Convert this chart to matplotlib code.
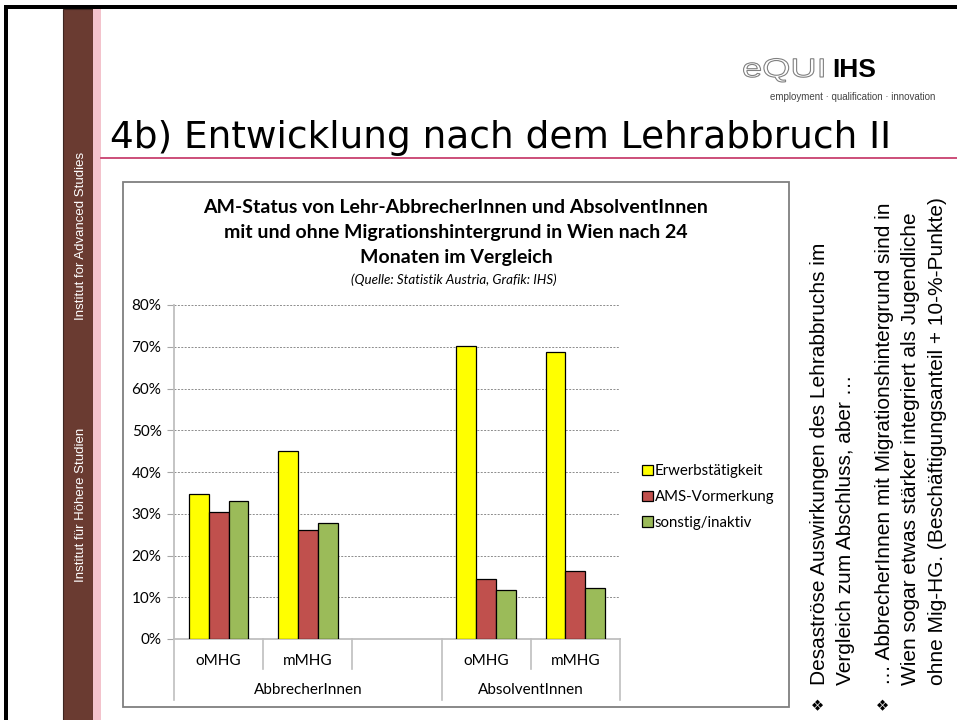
import matplotlib.pyplot as plt
from matplotlib.patches import Rectangle, PathPatch
from matplotlib.transforms import Affine2D
from matplotlib.lines import Line2D
from matplotlib.textpath import TextPath
from matplotlib.font_manager import FontProperties

# data
categories = ['oMHG', 'mMHG', '', 'oMHG', 'mMHG']
groups = ['AbbrecherInnen', 'AbsolventInnen']
series = ['Erwerbstätigkeit', 'AMS-Vormerkung', 'sonstig/inaktiv']
erwerb = [0.347, 0.450, None, 0.702, 0.688]
ams = [0.303, 0.260, None, 0.144, 0.162]
sonstig = [0.330, 0.277, None, 0.117, 0.121]
yticks = [0, 0.1, 0.2, 0.3, 0.4, 0.5, 0.6, 0.7, 0.8]

W, H = 957, 720
fig = plt.figure(figsize=(W / 100, H / 100), dpi=100)
px = Affine2D().scale(1 / W, -1 / H).translate(0, 1) + fig.transFigure

def rect(x0, y0, x1, y1, **kw):
    fig.patches.append(Rectangle((x0, y0), x1 - x0, y1 - y0, transform=px, **kw))

def line(xs, ys, **kw):
    fig.lines.append(Line2D(xs, ys, transform=px, **kw))

# slide frame and side bars
rect(4, 5, W + 5, 9, color='black', lw=0)
rect(4, 5, 8, H + 5, color='black', lw=0)
rect(63, 9, 93, H + 5, facecolor='#6A3B31', edgecolor='#3E2520', lw=0.8)
rect(93, 9, 101, H + 5, facecolor='#F3C3CC', lw=0)
fig.text(81, 236, 'Institut for Advanced Studies', transform=px, rotation=90,
         ha='center', va='center', color='white', fontsize=9.5, family='Liberation Sans')
fig.text(81, 505, 'Institut für Höhere Studien', transform=px, rotation=90,
         ha='center', va='center', color='white', fontsize=9.5, family='Liberation Sans')

# logo: wide outlined "eQUI" plus bold "IHS"
tp = TextPath((0, 0), 'eQUI', size=26.5, prop=FontProperties(family='Liberation Sans'))
fig.patches.append(PathPatch(tp, transform=Affine2D().scale(1.37, -1).translate(742, 77) + px,
                             facecolor='white', edgecolor='#808080', lw=0.8))
fig.text(832, 77, 'IHS', transform=px, fontsize=19, family='Liberation Sans',
         fontweight='bold', color='black', va='baseline')
fig.text(935, 100, 'employment · qualification · innovation', transform=px, ha='right',
         va='baseline', fontsize=7, family='Liberation Sans', color='#444444')

# slide title
fig.text(110, 148, '4b) Entwicklung nach dem Lehrabbruch II', transform=px,
         fontsize=27, family='DejaVu Sans', va='baseline')
line([101, W], [158, 158], color='#C8406E', lw=1.3)

# chart box
rect(123, 182, 789, 707, facecolor='white', edgecolor='#7F7F7F', lw=1.3, zorder=0)
title_lines = ['AM-Status von Lehr-AbbrecherInnen und AbsolventInnen',
               'mit und ohne Migrationshintergrund in Wien nach 24',
               'Monaten im Vergleich']
for i, t in enumerate(title_lines):
    fig.text(456, 213 + 25 * i, t, transform=px, ha='center', va='baseline',
             fontsize=14, fontweight='bold', family='Lato')
fig.text(454, 284, '(Quelle: Statistik Austria, Grafik: IHS)', transform=px,
         ha='center', va='baseline', fontsize=9.6, style='italic', family='Lato')

# plot area
ax = fig.add_axes([174 / W, (H - 639) / H, 446 / W, 334 / H])
ax.set_zorder(2)
ax.patch.set_visible(False)
xs = [i + 0.5 for i in range(len(categories))]
bw = 0.222
colors = ['#FFFF00', '#C0504D', '#9BBB59']
for k, (vals, col, name) in enumerate(zip([erwerb, ams, sonstig], colors, series)):
    bx = [x + (k - 1) * bw for x, v in zip(xs, vals) if v is not None]
    bv = [v for v in vals if v is not None]
    ax.bar(bx, bv, width=bw, color=col, edgecolor='black', lw=0.9, label=name, zorder=3)

ax.set_xlim(0, len(categories))
ax.set_ylim(0, 0.8)
ax.set_yticks(yticks)
ax.set_yticklabels(['%d%%' % round(v * 100) for v in yticks], family='Lato', fontsize=11)
ax.tick_params(axis='y', length=5, color='#A6A6A6', pad=4)
ax.set_xticks([])
ax.grid(axis='y', color='#8C8C8C', ls=(0, (2, 1.5)), lw=0.7, zorder=0)
for s in ['top', 'right']:
    ax.spines[s].set_visible(False)
ax.spines['left'].set_color('#BFBFBF')
ax.spines['bottom'].set_color('#BFBFBF')
ax.spines['left'].set_linewidth(1.3)
ax.spines['bottom'].set_linewidth(1.3)

# two level category axis
for x in range(len(categories) + 1):
    depth = 0.183 if x in (0, 3, 5) else 0.09
    ax.axvline(x, ymin=-depth, ymax=0, color='#BFBFBF', lw=1.2, clip_on=False)
tr = ax.get_xaxis_transform()
for x, c in zip(xs, categories):
    ax.text(x, -0.066, c, transform=tr, ha='center', va='center', fontsize=11, family='Lato')
ax.text(1.5, -0.153, groups[0], transform=tr, ha='center', va='center', fontsize=11, family='Lato')
ax.text(4.0, -0.153, groups[1], transform=tr, ha='center', va='center', fontsize=11, family='Lato')

fig.legend(loc='center left', bbox_to_anchor=(636 / W, (H - 497) / H), frameon=False,
           prop={'family': 'Lato', 'size': 10.8}, handlelength=0.7, handleheight=0.7,
           handletextpad=0.15, labelspacing=0.78, borderaxespad=0)

# bullet text on the right
bullets = [
    ['Desaströse Auswirkungen des Lehrabbruchs im', 'Vergleich zum Abschluss, aber …'],
    ['… AbbrecherInnen mit Migrationshintergrund sind in',
     'Wien sogar etwas stärker integriert als Jugendliche',
     'ohne Mig-HG. (Beschäftigungsanteil + 10-%-Punkte)'],
]
baselines = [[825, 851], [890, 916, 943]]
for lines_, bases in zip(bullets, baselines):
    fig.text(bases[0] - 7, 703, '❖', transform=px, rotation=90, ha='center', va='center',
             fontsize=11, family='DejaVu Sans')
    for t, b in zip(lines_, bases):
        fig.text(b, 685, t, transform=px, rotation=90, rotation_mode='anchor',
                 ha='left', va='baseline', fontsize=15, family='Liberation Sans')

fig.savefig('out.png', dpi=100)
